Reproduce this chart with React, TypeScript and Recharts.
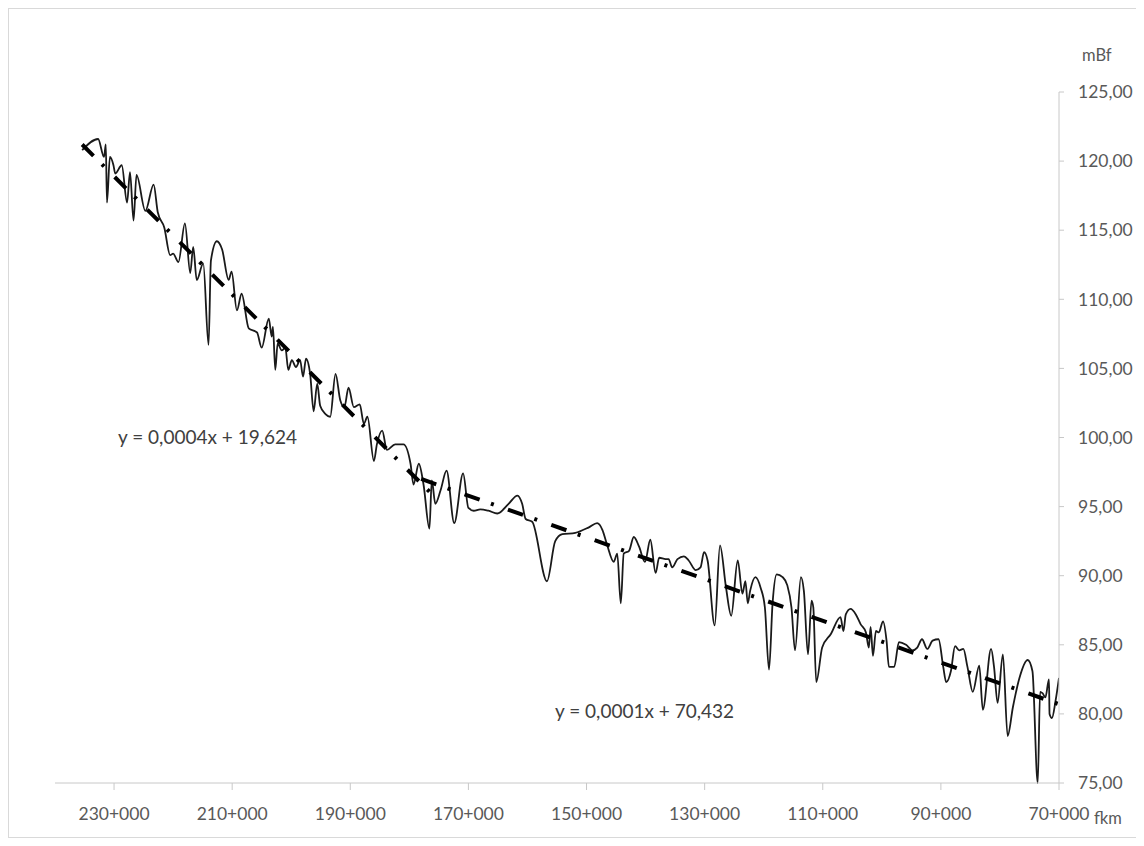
import { LineChart, Line, XAxis, YAxis } from "recharts";

// river km (fkm) and water level (mBf), left to right
const fkm = [
  235.4, 232.7, 231.7, 231.4, 231.2, 230.7, 230.1, 229.8, 228.7, 227.8, 227.3, 226.7, 226.2, 224.7, 223.3,
  222.6, 221.5, 220.5, 220.0, 219.1, 218.0, 217.1, 216.6, 216.0, 214.9, 214.0, 213.6, 212.6, 211.7, 210.6,
  210.1, 209.2, 208.4, 207.2, 205.8, 205.0, 203.8, 203.3, 203.1, 202.7, 202.3, 201.6, 201.0, 200.5, 199.9,
  199.2, 198.5, 198.0, 197.5, 196.8, 196.2, 195.6, 195.1, 194.2, 193.4, 192.5, 191.7, 191.0, 190.3, 189.4,
  188.4, 187.7, 187.1, 186.0, 185.5, 184.6, 183.8, 182.4, 181.0, 179.8, 179.3, 178.4, 177.6, 176.6, 176.2,
  175.6, 174.7, 173.7, 172.4, 170.9, 170.0, 169.1, 168.0, 166.6, 165.1, 163.2, 161.7, 160.9, 160.3, 159.2,
  156.7, 155.3, 154.1, 151.9, 149.6, 148.2, 147.3, 146.5, 145.4, 144.8, 144.2, 143.7, 142.8, 142.0, 141.1,
  140.1, 139.2, 138.3, 137.7, 136.6, 136.1, 135.5, 134.6, 133.5, 132.7, 131.5, 130.7, 130.1, 129.5, 128.3,
  127.4, 126.4, 125.5, 124.4, 123.6, 123.1, 122.7, 122.3, 121.4, 120.5, 119.8, 119.1, 118.5, 117.8, 116.8,
  116.0, 115.3, 114.7, 113.7, 113.2, 112.5, 111.9, 111.6, 111.1, 110.1, 108.6, 107.0, 106.5, 106.1, 105.3,
  104.4, 103.6, 102.7, 102.2, 101.9, 101.5, 101.0, 100.5, 99.8, 99.2, 98.8, 97.9, 97.1, 95.9, 94.8,
  94.0, 93.2, 92.3, 91.4, 90.4, 89.6, 89.1, 88.3, 87.6, 86.9, 86.2, 85.5, 84.6, 83.5, 82.9,
  81.5, 81.0, 80.4, 79.5, 78.7, 77.8, 76.7, 75.3, 74.5, 73.6, 73.2, 72.8, 72.3, 71.7, 71.6,
  71.2, 70.6, 70.0,
];
const level = [
  120.8, 121.6, 120.3, 121.2, 117.0, 120.3, 119.7, 119.1, 119.7, 117.0, 119.2, 115.7, 119.0, 116.4, 118.3,
  116.3, 115.2, 113.2, 113.3, 112.7, 115.5, 111.9, 113.8, 111.4, 112.6, 106.7, 112.8, 114.2, 113.6, 111.4,
  112.0, 109.2, 110.4, 107.9, 107.6, 106.5, 108.6, 107.3, 108.0, 104.9, 106.8, 106.3, 106.5, 104.9, 105.6,
  105.1, 105.6, 104.4, 105.7, 104.6, 101.9, 103.9, 102.3, 101.7, 101.5, 104.6, 102.7, 102.2, 103.6, 102.2,
  102.4, 101.0, 101.5, 98.3, 99.5, 100.5, 99.1, 99.5, 99.5, 98.1, 96.6, 98.1, 96.6, 93.4, 96.9,
  95.2, 96.2, 97.6, 93.8, 97.4, 94.9, 94.7, 94.8, 94.7, 94.5, 95.2, 95.8, 95.2, 94.1, 93.9,
  89.6, 92.5, 93.0, 93.1, 93.5, 93.8, 93.3, 92.2, 91.0, 91.6, 88.0, 91.6, 91.8, 92.8, 92.1,
  91.0, 92.6, 90.2, 91.3, 91.2, 91.2, 90.6, 91.2, 91.4, 91.1, 90.4, 90.6, 91.7, 91.1, 86.4,
  92.2, 89.2, 87.1, 91.1, 88.7, 89.6, 88.0, 88.9, 89.9, 89.1, 87.7, 83.2, 88.0, 90.1, 89.9,
  89.3, 87.7, 84.6, 89.9, 88.9, 84.3, 88.2, 87.7, 82.3, 84.8, 85.8, 87.0, 86.0, 87.2, 87.6,
  87.2, 86.5, 85.9, 84.8, 86.3, 84.2, 86.0, 85.9, 86.7, 85.3, 83.4, 83.4, 85.2, 85.0, 84.6,
  84.8, 85.4, 84.7, 85.3, 85.4, 83.4, 82.3, 83.1, 84.9, 84.6, 84.7, 83.4, 81.6, 83.5, 80.3,
  84.7, 83.4, 80.8, 84.3, 78.4, 80.5, 82.6, 83.9, 83.1, 75.0, 81.6, 81.5, 81.2, 82.5, 80.0,
  79.7, 80.9, 82.6,
];

// linear trend lines (two sections)
const trendUpperKm = [235.4, 175.0];
const trendUpperVal = [121.2, 95.4];
const trendLowerKm = [178.0, 70.0];
const trendLowerVal = [97.0, 80.7];

const xTicks = [230, 210, 190, 170, 150, 130, 110, 90, 70];
const yTicks = [75, 80, 85, 90, 95, 100, 105, 110, 115, 120, 125];

const profile = fkm.map((km, i) => ({ km, v: level[i] }));
const trendUpper = trendUpperKm.map((km, i) => ({ km, v: trendUpperVal[i] }));
const trendLower = trendLowerKm.map((km, i) => ({ km, v: trendLowerVal[i] }));

const font = "Lato, 'Open Sans', sans-serif";
const txt = { position: "absolute" as const, fontFamily: font, fontSize: 19, color: "#404040", whiteSpace: "nowrap" as const };

export default function App() {
  return (
    <div style={{ position: "relative", width: 1134, height: 828, border: "1px solid #d9d9d9", background: "#fff" }}>
      <LineChart width={1134} height={828} margin={{ top: 83, right: 14, left: 46, bottom: 24 }}>
        <XAxis
          type="number"
          dataKey="km"
          domain={[70, 240]}
          reversed
          ticks={xTicks}
          interval={0}
          allowDataOverflow
          height={30}
          tickFormatter={(v) => `${v}+000`}
          tick={{ fontSize: 17.5, fill: "#595959", fontFamily: font }}
          tickSize={7}
          tickMargin={18}
          stroke="#c8c8c8"
        />
        <YAxis
          orientation="right"
          type="number"
          domain={[75, 125]}
          ticks={yTicks}
          interval={0}
          width={70}
          tickFormatter={(v) => v.toFixed(2).replace(".", ",")}
          tick={{ fontSize: 17.5, fill: "#595959", fontFamily: font }}
          tickSize={5}
          tickMargin={14}
          stroke="#c8c8c8"
        />
        <Line data={profile} dataKey="v" type="monotone" stroke="#1a1a1a" strokeWidth={1.8} dot={false} isAnimationActive={false} />
        <Line data={trendUpper} dataKey="v" type="linear" stroke="#000" strokeWidth={4} strokeDasharray="16 12 3 15" dot={false} isAnimationActive={false} />
        <Line data={trendLower} dataKey="v" type="linear" stroke="#000" strokeWidth={4} strokeDasharray="16 12 3 15" dot={false} isAnimationActive={false} />
      </LineChart>
      <div style={{ ...txt, left: 1073, top: 36, fontSize: 16.5, color: "#595959" }}>mBf</div>
      <div style={{ ...txt, left: 1085, top: 799, fontSize: 16.5, color: "#595959" }}>fkm</div>
      <div style={{ ...txt, left: 109, top: 416 }}>y = 0,0004x + 19,624</div>
      <div style={{ ...txt, left: 546, top: 690 }}>y = 0,0001x + 70,432</div>
    </div>
  );
}
